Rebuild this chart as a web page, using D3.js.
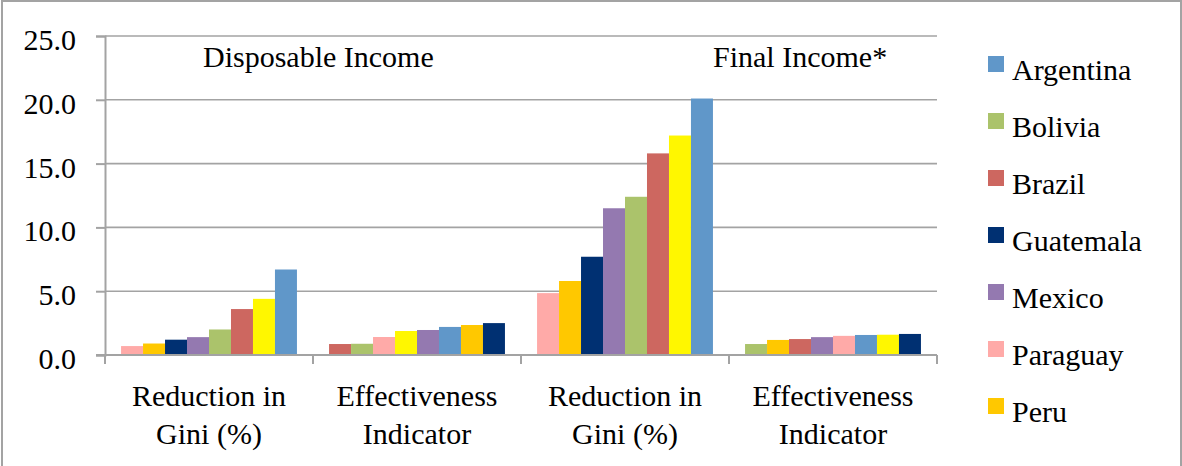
<!DOCTYPE html>
<html><head><meta charset="utf-8"><script src="https://cdn.jsdelivr.net/npm/d3@7"></script></head>
<body style="margin:0">
<script>
// data, country order follows the legend
const countries = ['Argentina', 'Bolivia', 'Brazil', 'Guatemala', 'Mexico', 'Paraguay', 'Peru', 'Uruguay'];
const countryColors = ['#6097c9', '#abc36b', '#cd6760', '#003072', '#9479b0', '#ffaaa8', '#ffc800', '#fff700'];

const categories = ['dispGini', 'dispEff', 'finalGini', 'finalEff'];
const categoryLabels = [
  ['Reduction in', 'Gini (%)'],
  ['Effectiveness', 'Indicator'],
  ['Reduction in', 'Gini (%)'],
  ['Effectiveness', 'Indicator'],
];

const dispGini  = [6.7, 2.0, 3.6, 1.2, 1.4, 0.7, 0.9, 4.4];
const dispEff   = [2.2, 0.88, 0.86, 2.5, 1.96, 1.41, 2.35, 1.88];
const finalGini = [20.1, 12.4, 15.8, 7.7, 11.5, 4.85, 5.8, 17.2];
const finalEff  = [1.57, 0.86, 1.25, 1.65, 1.4, 1.5, 1.18, 1.59];

const yTicks = [0, 5, 10, 15, 20, 25];
const panelTitles = ['Disposable Income', 'Final Income*'];

const W = 1182, H = 466;
const plot = { l: 105, r: 937, t: 36, b: 355 };
const GRID = '#a3a3a3';
const FONT = "'Liberation Serif'";
const FS = 30;

const seriesByCat = [dispGini, dispEff, finalGini, finalEff];

const svg = d3.select('body').append('svg')
  .attr('width', W)
  .attr('height', H);

// outer frame
svg.append('rect')
  .attr('x', 2).attr('y', 1)
  .attr('width', W - 3).attr('height', H + 10)
  .attr('fill', 'none')
  .attr('stroke', GRID)
  .attr('stroke-width', 2);

const x0 = d3.scaleBand()
  .domain(categories)
  .range([plot.l, plot.r])
  .padding(0);

const x1 = d3.scaleBand()
  .domain(d3.range(countries.length))
  .range([0, x0.bandwidth()])
  .paddingInner(0)
  .paddingOuter(0.73);

const y = d3.scaleLinear()
  .domain([0, 25])
  .range([plot.b, plot.t]);

// gridlines
svg.append('g')
  .selectAll('line')
  .data(yTicks.filter(d => d > 0))
  .join('line')
  .attr('x1', plot.l).attr('x2', plot.r)
  .attr('y1', d => y(d)).attr('y2', d => y(d))
  .attr('stroke', GRID)
  .attr('stroke-width', 1.6);

// bars, each group sorted ascending
const groups = svg.append('g')
  .selectAll('g')
  .data(categories)
  .join('g')
  .attr('transform', c => `translate(${x0(c)},0)`);

groups.selectAll('rect')
  .data((c, ci) => {
    const vals = seriesByCat[ci];
    const order = d3.range(countries.length).sort((a, b) => vals[a] - vals[b]);
    return order.map((k, rank) => ({ country: k, rank, value: vals[k] }));
  })
  .join('rect')
  .attr('x', d => x1(d.rank))
  .attr('width', x1.bandwidth())
  .attr('y', d => y(d.value))
  .attr('height', d => y(0) - y(d.value))
  .attr('fill', d => countryColors[d.country]);

// y axis: lines from d3, labels drawn as plain texts
const yAxis = svg.append('g')
  .attr('transform', `translate(${plot.l},0)`)
  .call(d3.axisLeft(y).tickValues(yTicks).tickSize(9).tickFormat(''));
yAxis.select('.domain').attr('stroke', GRID).attr('stroke-width', 2);
yAxis.selectAll('.tick line').attr('stroke', GRID).attr('stroke-width', 2);

svg.append('g')
  .selectAll('text')
  .data(yTicks)
  .join('text')
  .attr('text-anchor', 'end')
  .attr('x', 76)
  .attr('y', d => y(d) + 14)
  .attr('font-family', FONT)
  .attr('font-size', FS)
  .text(d => d3.format('.1f')(d));

// x axis line + category boundary ticks
svg.append('line')
  .attr('x1', plot.l - 9).attr('x2', plot.r)
  .attr('y1', plot.b).attr('y2', plot.b)
  .attr('stroke', GRID).attr('stroke-width', 2);

const bounds = categories.map(c => x0(c)).concat([x0(categories[categories.length - 1]) + x0.bandwidth()]);
svg.append('g')
  .selectAll('line')
  .data(bounds)
  .join('line')
  .attr('x1', d => d).attr('x2', d => d)
  .attr('y1', plot.b).attr('y2', plot.b + 9)
  .attr('stroke', GRID).attr('stroke-width', 2);

// category labels, one text per line
svg.append('g')
  .selectAll('text')
  .data(categories.flatMap((c, i) => categoryLabels[i].map((t, k) => ({ c, t, k }))))
  .join('text')
  .attr('text-anchor', 'middle')
  .attr('x', d => x0(d.c) + x0.bandwidth() / 2)
  .attr('y', d => 406 + d.k * 38)
  .attr('font-family', FONT)
  .attr('font-size', FS)
  .text(d => d.t);

// panel titles
svg.append('text')
  .attr('x', 203).attr('y', 67)
  .attr('font-family', FONT)
  .attr('font-size', FS)
  .text(panelTitles[0]);
svg.append('text')
  .attr('x', 713).attr('y', 67)
  .attr('font-family', FONT)
  .attr('font-size', FS)
  .text(panelTitles[1]);

// legend: rows that run past the chart box are dropped, as in the original
const legRowY = i => 56 + i * 57;
const legendItems = countries.filter((d, i) => legRowY(i) + 24 < H - 10);

const legend = svg.append('g')
  .selectAll('g')
  .data(legendItems)
  .join('g')
  .attr('transform', (d, i) => `translate(988,${legRowY(i)})`);

legend.append('rect')
  .attr('width', 16).attr('height', 16)
  .attr('fill', (d, i) => countryColors[i]);

legend.append('text')
  .attr('x', 24).attr('y', 24)
  .attr('font-family', FONT)
  .attr('font-size', FS)
  .text(d => d);
</script>
</body></html>
